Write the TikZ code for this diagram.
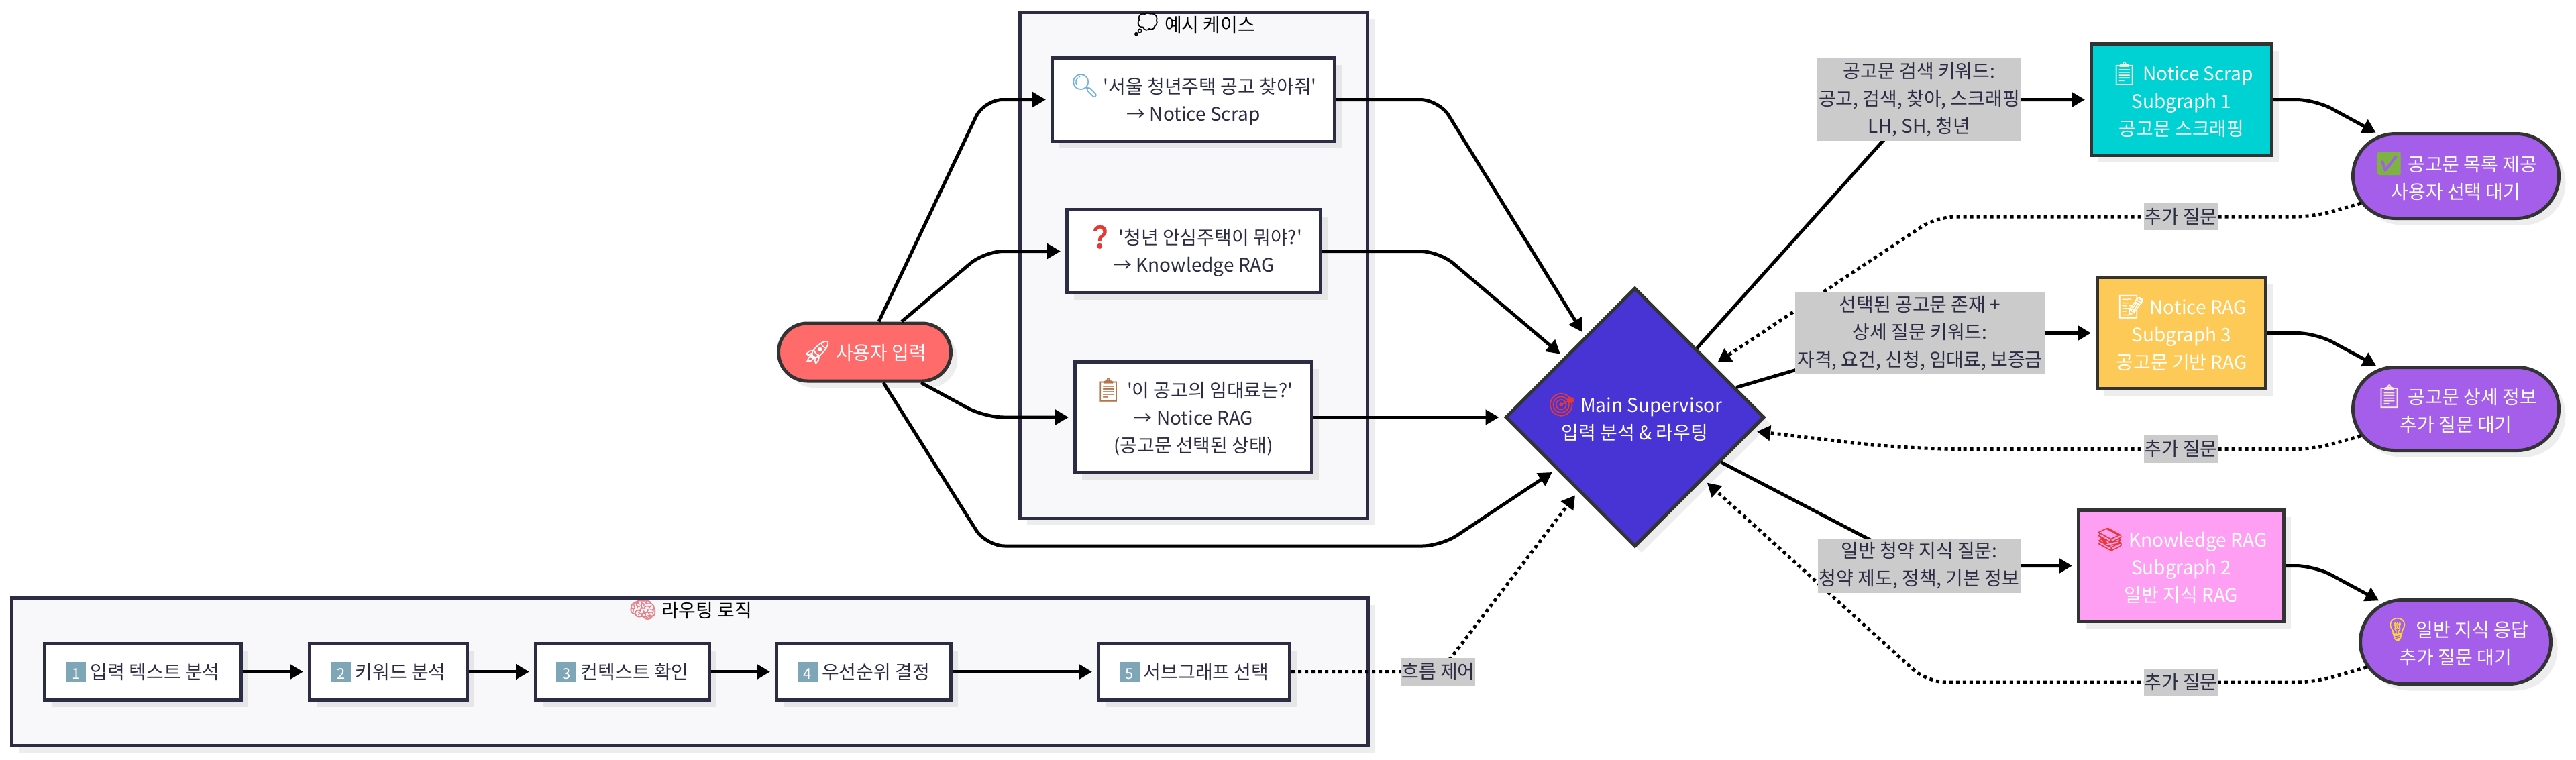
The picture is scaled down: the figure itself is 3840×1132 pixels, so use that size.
\documentclass[tikz,border=0pt]{standalone}
\usepackage{fontspec}
\setmainfont{Noto Sans CJK KR}
\newfontfamily\korfont{Noto Sans CJK KR}
\newfontfamily\emofont[FakeBold=1]{Noto Emoji}
\usetikzlibrary{arrows.meta,calc,shapes.geometric,shapes.misc,shadows}
\definecolor{ink}{HTML}{2C2C44}
\definecolor{edge}{HTML}{333333}
\definecolor{panel}{HTML}{F8F8FB}
\definecolor{tag}{HTML}{CBCBCB}
\definecolor{keyc}{HTML}{7FA6B6}
\definecolor{endc}{HTML}{A55EEA}
\definecolor{ColorPink}{HTML}{E8808A}
\definecolor{SkyTone}{HTML}{6FB3E0}
\definecolor{RedTone}{HTML}{E53935}
\definecolor{TanTone}{HTML}{B5754A}
\definecolor{PaleTan}{HTML}{F7E9D8}
\definecolor{GreenTone}{HTML}{7CB342}
\definecolor{YellowTone}{HTML}{FDD835}
\newcommand{\emj}[2]{{\emofont\fontsize{17}{20.5}\selectfont\color{#1}#2}}
\newcommand{\keycap}[1]{{\fboxsep=0pt\colorbox{keyc}{\makebox[15pt]{\rule[-2pt]{0pt}{15pt}\color{white}\fontsize{11}{11}\selectfont #1}}}}
\tikzset{
  basefont/.style={font=\korfont\fontsize{14}{20.5}\selectfont,align=center,inner sep=0pt},
  softshadow/.style={drop shadow={shadow xshift=5pt,shadow yshift=-5pt,opacity=.07,fill=black}},
  panelbox/.style={rectangle,draw=ink,line width=2.5pt,fill=panel,softshadow,inner sep=0pt},
  paneltitle/.style={basefont,text=black},
  casebox/.style={basefont,rectangle,draw=ink,line width=2.5pt,fill=white,text=ink,softshadow,minimum height=#1},
  casebox/.default=62pt,
  stepbox/.style={casebox=42pt},
  subbox/.style={basefont,rectangle,draw=edge,line width=2.5pt,text=white,softshadow,minimum height=83pt},
  endpill/.style={basefont,rounded rectangle,draw=edge,line width=2.5pt,fill=endc,text=white,softshadow},
  tagnode/.style={basefont,rectangle,fill=tag,text=ink},
  link/.style={line width=2.5pt,draw=black,rounded corners=14pt,shorten >=3.5pt,-{Triangle[length=10pt,width=11pt]}},
  dotlink/.style={link,dash pattern=on 2.5pt off 2.5pt}
}
\begin{document}
\begin{tikzpicture}[x=.5pt,y=-.5pt]
\useasboundingbox (0,0) rectangle (3840,1132);
% frames
\node[panelbox,minimum width=259pt,minimum height=377pt] (casesframe) at (1779.5,395.5) {};
\node[panelbox,minimum width=1011pt,minimum height=110pt] (logicframe) at (1028.5,1001.5) {};
\node[paneltitle] (casestitle) at (1779,36) {\emj{black}{💭} 예시 케이스};
\node[paneltitle] (logictitle) at (1029,909) {\emj{ColorPink}{🧠} 라우팅 로직};
% input and cases
\node[basefont,rounded rectangle,draw=edge,line width=2.5pt,fill={rgb,255:red,255;green,107;blue,107},text=white,softshadow,minimum width=128.5pt,minimum height=43pt] (input) at (1289,525) {\emj{white}{🚀} 사용자 입력};
\node[casebox,minimum width=210.5pt] (case1) at (1779,148.5) {\emj{SkyTone}{🔍} '서울 청년주택 공고 찾아줘'\\→ Notice Scrap};
\node[casebox,minimum width=189pt] (case2) at (1779.5,374.5) {\emj{RedTone}{❓} '청년 안심주택이 뭐야?'\\→ Knowledge RAG};
\node[casebox=82.5pt,minimum width=176.5pt] (case3) at (1779,622) {\emj{TanTone}{📋} '이 공고의 임대료는?'\\→ Notice RAG\\(공고문 선택된 상태)};
% supervisor
\node[basefont,diamond,aspect=1,draw=edge,line width=2.5pt,fill={rgb,255:red,72;green,52;blue,212},text=white,softshadow,minimum width=193pt,minimum height=193pt] (sup) at (2437,622) {\emj{RedTone}{🎯} Main Supervisor\\입력 분석 \& 라우팅};
% subgraphs
\node[subbox,fill={rgb,255:red,0;green,210;blue,211},minimum width=134.5pt] (scrap) at (3252,148.5) {\emj{PaleTan}{📋} Notice Scrap\\Subgraph 1\\공고문 스크래핑};
\node[subbox,fill={rgb,255:red,254;green,202;blue,87},minimum width=125.5pt] (nrag) at (3252,496.5) {\emj{white}{📝} Notice RAG\\Subgraph 3\\공고문 기반 RAG};
\node[subbox,fill={rgb,255:red,255;green,159;blue,243},minimum width=153pt] (krag) at (3251.5,843.5) {\emj{RedTone}{📚} Knowledge RAG\\Subgraph 2\\일반 지식 RAG};
% end states
\node[endpill,minimum width=153.5pt,minimum height=63pt] (end1) at (3661,262.5) {\emj{GreenTone}{✅} 공고문 목록 제공\\사용자 선택 대기};
\node[endpill,minimum width=153.5pt,minimum height=62pt] (end2) at (3661,609.5) {\emj{PaleTan}{📋} 공고문 상세 정보\\추가 질문 대기};
\node[endpill,minimum width=142pt,minimum height=62.5pt] (end3) at (3660.5,957) {\emj{YellowTone}{💡} 일반 지식 응답\\추가 질문 대기};
% steps
\node[stepbox,minimum width=146.5pt] (s1) at (213,1001.5) {\keycap{1} 입력 텍스트 분석};
\node[stepbox,minimum width=117.5pt] (s2) at (579,1001.5) {\keycap{2} 키워드 분석};
\node[stepbox,minimum width=129.5pt] (s3) at (928,1001.5) {\keycap{3} 컨텍스트 확인};
\node[stepbox,minimum width=130pt] (s4) at (1287.5,1001.5) {\keycap{4} 우선순위 결정};
\node[stepbox,minimum width=142.5pt] (s5) at (1780,1001.5) {\keycap{5} 서브그래프 선택};
% connectors
\draw[link] ($(input.north)+(21,0)$) -- (1467,148.5) -- (case1.west);
\draw[link] ($(input.north)+(55,0)$) -- (1468,374.5) -- (case2.west);
\draw[link] ($(input.south)+(84,0)$) -- (1468,622) -- (case3.west);
\draw[link] ($(input.south)+(28,0)$) -- (1470,814) -- (2148,814) -- (sup);
\draw[link] (case1.east) -- (2145,148.5) -- (sup);
\draw[link] (case2.east) -- (2145,374.5) -- (sup);
\draw[link] (case3.east) -- (sup);
\draw[link] (sup) -- (2862,148.5) -- (scrap.west);
\draw[link] (sup) -- (2864,496.5) -- (nrag.west);
\draw[link] (sup) -- (2862,843.5) -- (krag.west);
\draw[link] (scrap.east) -- (3451,148.5) -- (end1);
\draw[link] (nrag.east) -- (3452,496.5) -- (end2);
\draw[link] (krag.east) -- (3450,843.5) -- (end3);
\draw[dotlink] (end1) -- (3450,323) -- (2887,323) -- (sup);
\draw[dotlink] (end2) -- (3450,669.5) -- (2950,669.5) [rounded corners=40pt] -- (2843,669.5) -- (sup);
\draw[dotlink] (end3) -- (3450,1017) -- (2873,1017) -- (sup);
\draw[dotlink] (s5.east) -- (2147,1001.5) -- (sup);
\draw[link] (s1) -- (s2);
\draw[link] (s2) -- (s3);
\draw[link] (s3) -- (s4);
\draw[link] (s4) -- (s5);
% labels
\node[tagnode,minimum width=152pt,minimum height=61.5pt] (l1) at (2861,148.5) {공고문 검색 키워드:\\공고, 검색, 찾아, 스크래핑\\LH, SH, 청년};
\node[tagnode,minimum width=186pt,minimum height=61pt] (l2) at (2862,497) {선택된 공고문 존재 +\\상세 질문 키워드:\\자격, 요건, 신청, 임대료, 보증금};
\node[tagnode,minimum width=151pt,minimum height=40.5pt] (l3) at (2861,843.5) {일반 청약 지식 질문:\\청약 제도, 정책, 기본 정보};
\node[tagnode,minimum width=54pt,minimum height=20pt] (f1) at (3251,323) {추가 질문};
\node[tagnode,minimum width=54pt,minimum height=20.5pt] (f2) at (3251,669.5) {추가 질문};
\node[tagnode,minimum width=54pt,minimum height=20pt] (f3) at (3251,1017) {추가 질문};
\node[tagnode,minimum width=54pt,minimum height=20.5pt] (f4) at (2144,1001.5) {흐름 제어};
\end{tikzpicture}
\end{document}
